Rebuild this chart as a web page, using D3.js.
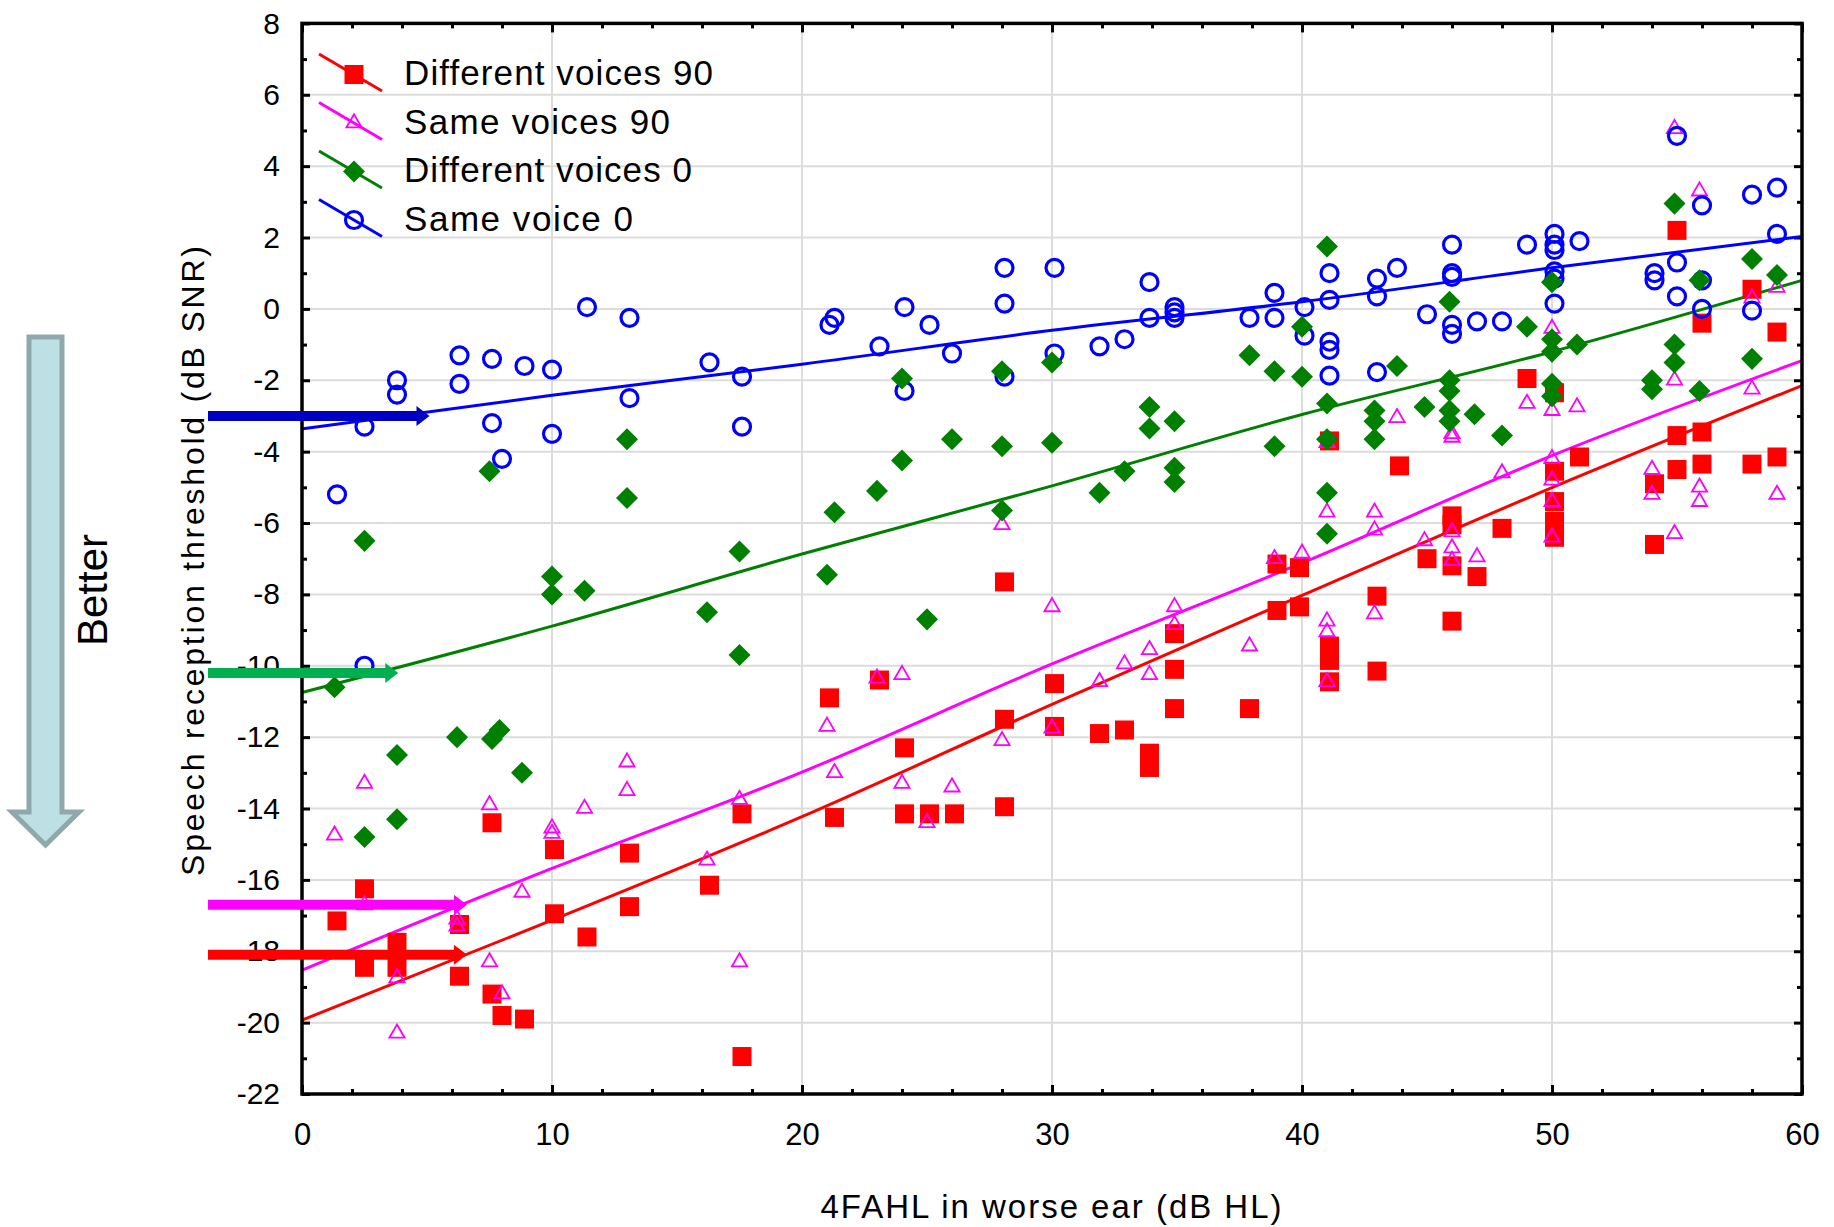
<!DOCTYPE html>
<html>
<head>
<meta charset="utf-8">
<script src="https://cdn.jsdelivr.net/npm/d3@7"></script>
<style>
body { margin: 0; background: #fff; }
text { font-family: "Liberation Sans", Arial, sans-serif; fill: #000; }
</style>
</head>
<body>
<svg width="1834" height="1227"></svg>
<script>
// ---- data ----
var seriesNames = ["Different voices 90", "Same voices 90", "Different voices 0", "Same voice 0"];

var diffVoices90 = [
  [1.4,-17.15],[2.5,-16.25],[2.5,-18.45],[3.8,-17.75],[3.8,-18.45],[6.3,-17.25],[6.3,-18.7],
  [7.6,-14.4],[7.6,-19.2],[8.0,-19.8],[8.9,-19.9],[10.1,-15.15],[10.1,-16.95],[11.4,-17.6],
  [13.1,-15.25],[13.1,-16.75],[16.3,-16.15],[17.6,-14.15],[17.6,-20.95],[21.1,-10.9],[21.3,-14.25],
  [23.1,-10.4],[24.1,-12.3],[24.1,-14.15],[25.1,-14.15],[26.1,-14.15],[28.1,-7.65],[28.1,-11.5],
  [28.1,-13.95],[30.1,-10.5],[30.1,-11.7],[31.9,-11.9],[32.9,-11.8],[33.9,-12.45],[33.9,-12.85],
  [34.9,-9.1],[34.9,-10.1],[34.9,-11.2],[37.9,-11.2],[39.0,-7.15],[39.0,-8.45],[39.9,-7.25],
  [39.9,-8.35],[41.1,-3.7],[41.1,-9.45],[41.1,-9.85],[41.1,-10.45],[43.0,-8.05],[43.0,-10.15],
  [43.9,-4.4],[45.0,-7.0],[46.0,-5.8],[46.0,-6.05],[46.0,-7.2],[46.0,-8.75],[47.0,-7.5],[48.0,-6.15],
  [49.0,-1.95],[50.1,-2.35],[50.1,-4.55],[50.1,-5.4],[50.1,-5.95],[50.1,-6.4],[51.1,-4.15],
  [54.1,-4.9],[54.1,-6.6],[55.0,2.2],[55.0,-3.55],[55.0,-4.5],[56.0,-0.4],[56.0,-3.45],[56.0,-4.35],
  [58.0,0.55],[58.0,-4.35],[59.0,-0.65],[59.0,-4.15]
];

var sameVoices90 = [
  [1.3,-14.75],[2.5,-13.3],[2.5,-16.7],[3.8,-18.75],[3.8,-20.3],[6.2,-17.1],[6.2,-17.3],[7.5,-13.9],
  [7.5,-18.3],[8.0,-19.2],[8.8,-16.35],[10.0,-14.55],[10.0,-14.7],[11.3,-14.0],[13.0,-12.7],[13.0,-13.5],
  [16.2,-15.45],[17.5,-13.75],[17.5,-18.3],[21.0,-11.7],[21.3,-13.0],[23.0,-10.35],[24.0,-10.25],
  [24.0,-13.3],[25.0,-14.4],[26.0,-13.4],[28.0,-6.05],[28.0,-12.1],[30.0,-8.35],[30.0,-11.75],
  [31.9,-10.45],[32.9,-9.95],[33.9,-9.55],[33.9,-10.25],[34.9,-8.35],[34.9,-8.85],[37.9,-9.45],
  [38.9,-7.0],[40.0,-6.85],[41.0,-3.75],[41.0,-5.7],[41.0,-8.75],[41.0,-9.05],[41.0,-10.45],
  [42.9,-5.7],[42.9,-6.2],[42.9,-8.55],[43.8,-3.05],[44.9,-6.5],[46.0,-3.5],[46.0,-3.6],[46.0,-6.25],
  [46.0,-6.7],[46.0,-7.05],[47.0,-6.95],[48.0,-4.6],[49.0,-2.65],[50.0,-0.55],[50.0,-2.85],[50.0,-4.2],
  [50.0,-4.8],[50.0,-5.4],[50.0,-6.4],[51.0,-2.75],[54.0,-4.5],[54.0,-5.2],[54.9,5.05],[54.9,-2.0],
  [54.9,-6.3],[55.9,3.3],[55.9,-5.0],[55.9,-5.4],[58.0,0.3],[58.0,-2.25],[59.0,0.6],[59.0,-5.2]
];

var diffVoices0 = [
  [1.3,-10.6],[2.5,-6.5],[2.5,-14.8],[3.8,-12.5],[3.8,-14.3],[6.2,-12.0],[7.5,-4.55],[7.6,-12.05],
  [7.9,-11.8],[8.8,-13.0],[10.0,-7.5],[10.0,-8.0],[11.3,-7.9],[13.0,-3.65],[13.0,-5.3],[16.2,-8.5],
  [17.5,-6.8],[17.5,-9.7],[21.0,-7.45],[21.3,-5.7],[23.0,-5.1],[24.0,-1.95],[24.0,-4.25],[25.0,-8.7],
  [26.0,-3.65],[28.0,-1.75],[28.0,-3.85],[28.0,-5.65],[30.0,-1.5],[30.0,-3.75],[31.9,-5.15],
  [32.9,-4.55],[33.9,-2.75],[33.9,-3.35],[34.9,-3.15],[34.9,-4.45],[34.9,-4.85],[37.9,-1.3],
  [38.9,-1.75],[38.9,-3.85],[40.0,-0.5],[40.0,-1.9],[41.0,1.75],[41.0,-2.65],[41.0,-3.65],[41.0,-5.15],
  [41.0,-6.3],[42.9,-2.85],[42.9,-3.15],[42.9,-3.65],[43.8,-1.6],[44.9,-2.75],[45.9,0.2],[45.9,-2.0],
  [45.9,-2.3],[45.9,-2.85],[45.9,-3.15],[46.9,-2.95],[48.0,-3.55],[49.0,-0.5],[50.0,0.75],[50.0,-0.85],
  [50.0,-1.2],[50.0,-2.1],[50.0,-2.45],[51.0,-1.0],[54.0,-2.0],[54.0,-2.25],[54.9,2.95],[54.9,-1.0],
  [54.9,-1.5],[55.9,0.8],[55.9,-2.3],[58.0,1.4],[58.0,-1.4],[59.0,0.95]
];

var sameVoice0 = [
  [1.4,-5.2],[2.5,-3.3],[2.5,-10.0],[3.8,-2.0],[3.8,-2.4],[6.3,-1.3],[6.3,-2.1],[7.6,-1.4],[7.6,-3.2],
  [8.0,-4.2],[8.9,-1.6],[10.0,-1.7],[10.0,-3.5],[11.4,0.05],[13.1,-0.25],[13.1,-2.5],[16.3,-1.5],
  [17.6,-1.9],[17.6,-3.3],[21.1,-0.45],[21.3,-0.25],[23.1,-1.05],[24.1,0.05],[24.1,-2.3],[25.1,-0.45],
  [26.0,-1.25],[28.1,1.15],[28.1,0.15],[28.1,-1.9],[30.1,1.15],[30.1,-1.25],[31.9,-1.05],[32.9,-0.85],
  [33.9,0.75],[33.9,-0.25],[34.9,0.05],[34.9,-0.1],[34.9,-0.25],[37.9,-0.25],[38.9,0.45],[38.9,-0.25],
  [40.1,0.05],[40.1,-0.75],[41.1,1.0],[41.1,0.25],[41.1,-0.92],[41.1,-1.15],[41.1,-1.87],[43.0,0.85],
  [43.0,0.35],[43.0,-1.77],[43.8,1.15],[45.0,-0.15],[46.0,1.8],[46.0,1.0],[46.0,0.9],[46.0,-0.45],
  [46.0,-0.7],[47.0,-0.35],[48.0,-0.35],[49.0,1.8],[50.1,2.1],[50.1,1.8],[50.1,1.65],[50.1,1.05],
  [50.1,0.85],[50.1,0.15],[51.1,1.9],[54.1,1.0],[54.1,0.8],[55.0,4.85],[55.0,1.3],[55.0,0.35],
  [56.0,2.9],[56.0,0.8],[56.0,0.0],[58.0,3.2],[58.0,-0.05],[59.0,3.4],[59.0,2.1]
];

// fitted curves, read at every 10 dB HL
var fitX = [0, 10, 20, 30, 40, 50, 60];
var fitDiff90 = [-19.93, -17.13, -14.23, -11.08, -8.03, -5.01, -2.15];
var fitSame90 = [-18.53, -15.68, -12.98, -9.95, -7.12, -4.11, -1.45];
var fitDiff0  = [-10.75, -8.89, -6.87, -4.96, -2.96, -1.2, 0.8];
var fitSame0  = [-3.36, -2.42, -1.55, -0.6, 0.2, 1.15, 2.03];

// reference arrows (level in dB SNR, tip in dB HL), in series order
var arrowLevels = [-18.1, -16.7, -10.2, -3.0];
var arrowTips = [6.6, 6.6, 3.85, 5.1];

var xTicks = [0, 10, 20, 30, 40, 50, 60];
var xMinorTicks = [2, 4, 6, 8, 12, 14, 16, 18, 22, 24, 26, 28, 32, 34, 36, 38, 42, 44, 46, 48, 52, 54, 56, 58];
var yTicks = [-22, -20, -18, -16, -14, -12, -10, -8, -6, -4, -2, 0, 2, 4, 6, 8];
var yMinorTicks = [-21, -19, -17, -15, -13, -11, -9, -7, -5, -3, -1, 1, 3, 5, 7];

// ---- drawing ----
var svg = d3.select("svg");
var colors = ["#ff0000", "#ff00ff", "#008000", "#0000ff"];
var arrowColors = ["#ff0000", "#ff00ff", "#00b050", "#0000c0"];

var x = d3.scaleLinear().domain([0, 60]).range([302, 1802]);
var y = d3.scaleLinear().domain([-22, 8]).range([1094, 23.4]);

svg.append("rect").attr("width", 1834).attr("height", 1227).attr("fill", "#fff");

// grid
var grid = svg.append("g").attr("stroke", "#dcdcdc").attr("stroke-width", 2);
grid.selectAll("line.gx").data(xTicks.slice(1, -1)).join("line")
  .attr("x1", d => x(d)).attr("x2", d => x(d)).attr("y1", y(8)).attr("y2", y(-22));
grid.selectAll("line.gy").data(yTicks.slice(1, -1)).join("line")
  .attr("y1", d => y(d)).attr("y2", d => y(d)).attr("x1", x(0)).attr("x2", x(60));

// axes (ticks point inward), labels with a plain hyphen minus
var plain = d => String(d);
function styleAxis(g, size) {
  g.select(".domain").remove();
  g.selectAll(".tick line").attr("stroke", "#000").attr("stroke-width", 3);
  g.selectAll(".tick text").attr("font-size", size).attr("font-family", "Liberation Sans, Arial, sans-serif").attr("fill", "#000");
}
svg.append("g").attr("transform", "translate(0," + y(-22) + ")")
  .call(d3.axisBottom(x).tickValues(xTicks).tickFormat(plain).tickSizeInner(-9).tickSizeOuter(0).tickPadding(29))
  .call(g => styleAxis(g, 31));
svg.append("g").attr("transform", "translate(0," + y(-22) + ")")
  .call(d3.axisBottom(x).tickValues(xMinorTicks).tickSize(-5).tickFormat(""))
  .call(g => styleAxis(g, 31));
svg.append("g").attr("transform", "translate(0," + y(8) + ")")
  .call(d3.axisTop(x).tickValues(xTicks).tickSize(-9).tickFormat(""))
  .call(g => styleAxis(g, 31));
svg.append("g").attr("transform", "translate(0," + y(8) + ")")
  .call(d3.axisTop(x).tickValues(xMinorTicks).tickSize(-5).tickFormat(""))
  .call(g => styleAxis(g, 31));
svg.append("g").attr("transform", "translate(" + x(0) + ",0)")
  .call(d3.axisLeft(y).tickValues(yTicks).tickFormat(plain).tickSizeInner(-8).tickSizeOuter(0).tickPadding(22))
  .call(g => styleAxis(g, 30));
svg.append("g").attr("transform", "translate(" + x(0) + ",0)")
  .call(d3.axisLeft(y).tickValues(yMinorTicks).tickSize(-5).tickFormat(""))
  .call(g => styleAxis(g, 30));
svg.append("g").attr("transform", "translate(" + x(60) + ",0)")
  .call(d3.axisRight(y).tickValues(yTicks).tickSize(-8).tickFormat(""))
  .call(g => styleAxis(g, 30));
svg.append("g").attr("transform", "translate(" + x(60) + ",0)")
  .call(d3.axisRight(y).tickValues(yMinorTicks).tickSize(-5).tickFormat(""))
  .call(g => styleAxis(g, 30));

// fit lines
var line = d3.line().x(d => x(d[0])).y(d => y(d[1])).curve(d3.curveMonotoneX);
[fitDiff90, fitSame90, fitDiff0, fitSame0].forEach(function(f, i) {
  svg.append("path")
    .datum(fitX.map((v, j) => [v, f[j]]))
    .attr("d", line)
    .attr("fill", "none")
    .attr("stroke", colors[i])
    .attr("stroke-width", 3);
});

// markers
var squarePath = d3.symbol(d3.symbolSquare, 361)();
var diamondPath = d3.symbol(d3.symbolSquare, 243)();
var trianglePath = d3.symbol(d3.symbolTriangle, 100)();

function drawMarker(g, kind, color) {
  if (kind === 0) g.append("path").attr("d", squarePath).attr("fill", color);
  if (kind === 1) g.append("path").attr("d", trianglePath).attr("fill", "none").attr("stroke", color).attr("stroke-width", 1.8);
  if (kind === 2) g.append("path").attr("d", diamondPath).attr("transform", "rotate(45)").attr("fill", color);
  if (kind === 3) g.append("circle").attr("r", 8.5).attr("fill", "none").attr("stroke", color).attr("stroke-width", 3.2);
}

var seriesData = [diffVoices90, sameVoices90, diffVoices0, sameVoice0];
[0, 1, 3, 2].forEach(function(k) {
  svg.append("g").selectAll("g").data(seriesData[k]).join("g")
    .attr("transform", d => "translate(" + x(d[0]) + "," + y(d[1]) + ")")
    .each(function() { drawMarker(d3.select(this), k, colors[k]); });
});

// frame
svg.append("rect")
  .attr("x", x(0)).attr("y", y(8))
  .attr("width", x(60) - x(0)).attr("height", y(-22) - y(8))
  .attr("fill", "none").attr("stroke", "#000").attr("stroke-width", 3.5);

// horizontal reference arrows
var arrowStart = 208;
arrowLevels.forEach(function(lv, i) {
  var yy = y(lv), tip = x(arrowTips[i]);
  svg.append("line")
    .attr("x1", arrowStart).attr("x2", tip - 11)
    .attr("y1", yy).attr("y2", yy)
    .attr("stroke", arrowColors[i]).attr("stroke-width", 10);
  svg.append("path")
    .attr("d", "M" + tip + "," + yy + "L" + (tip - 13) + "," + (yy - 10) + "L" + (tip - 13) + "," + (yy + 10) + "Z")
    .attr("fill", arrowColors[i]);
});

// legend
var legend = svg.append("g");
var legendWidths = [309, 266, 288, 229];
seriesNames.forEach(function(name, i) {
  var cy = 72.5 + 48.5 * i;
  var row = legend.append("g").attr("transform", "translate(0," + cy + ")");
  row.append("line").attr("x1", 319).attr("y1", -18.5).attr("x2", 382).attr("y2", 18.5)
    .attr("stroke", colors[i]).attr("stroke-width", 3);
  drawMarker(row.append("g").attr("transform", "translate(354,2)"), i, colors[i]);
  row.append("text").attr("x", 404).attr("y", 12.5)
    .attr("font-size", 35)
    .attr("textLength", legendWidths[i]).attr("lengthAdjust", "spacing")
    .text(name);
});

// axis titles
svg.append("text")
  .attr("x", 1051).attr("y", 1218)
  .attr("text-anchor", "middle").attr("font-size", 33)
  .attr("textLength", 461).attr("lengthAdjust", "spacing")
  .text("4FAHL in worse ear (dB HL)");
svg.append("text")
  .attr("transform", "translate(204,561) rotate(-90)")
  .attr("text-anchor", "middle").attr("font-size", 32)
  .attr("textLength", 630).attr("lengthAdjust", "spacing")
  .text("Speech reception threshold (dB SNR)");

// "Better" arrow
svg.append("path")
  .attr("d", "M29,337L62,337L62,812L79,812L45.5,845L12,812L29,812Z")
  .attr("fill", "#bde0e4").attr("stroke", "#8fa8ab").attr("stroke-width", 5)
  .attr("stroke-linejoin", "miter");
svg.append("text")
  .attr("transform", "translate(107,590) rotate(-90)")
  .attr("text-anchor", "middle").attr("font-size", 42)
  .text("Better");
</script>
</body>
</html>
